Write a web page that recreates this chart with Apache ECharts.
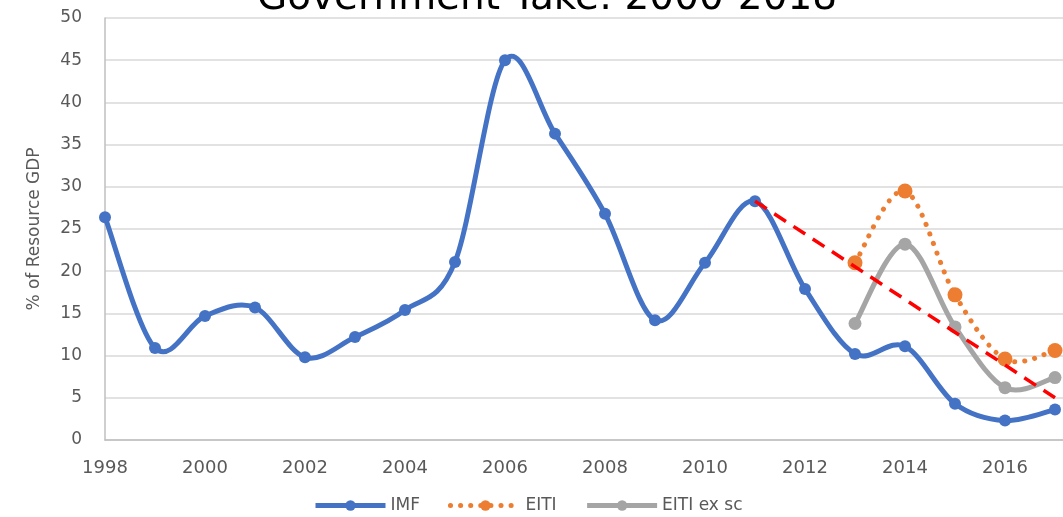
<!DOCTYPE html>
<html>
<head>
<meta charset="utf-8">
<script src="https://cdn.jsdelivr.net/npm/echarts@6/dist/echarts.min.js"></script>
<style>
  html, body { margin: 0; padding: 0; background: #fff; }
  #chart { width: 1063px; height: 517px; }
</style>
</head>
<body>
<div id="chart"></div>
<script>
// Government take as % of resource GDP, by year
const years = [1998, 1999, 2000, 2001, 2002, 2003, 2004, 2005, 2006, 2007,
               2008, 2009, 2010, 2011, 2012, 2013, 2014, 2015, 2016, 2017];
const imf = [26.4, 10.9, 14.7, 15.7, 9.8, 12.2, 15.4, 21.1, 45.0, 36.3,
             26.8, 14.2, 21.0, 28.3, 17.9, 10.2, 11.1, 4.3, 2.3, 3.6];
const eitiYears = [2013, 2014, 2015, 2016, 2017];
const eiti = [21.0, 29.5, 17.2, 9.6, 10.6];
const eitiExSc = [13.8, 23.2, 13.4, 6.2, 7.4];
// Straight-line decline drawn from the 2011 peak
const trendYears = [2011, 2017];
const trendValues = [28.3, 5.0];

const BLUE = '#4472C4', ORANGE = '#ED7D31', GREY = '#A5A5A5', TEXT = '#595959';
const pairs = (xs, ys) => xs.map((x, i) => [x, ys[i]]);

// Catmull-Rom style smoothing: each data item draws the cubic segment
// to the next point, with tangents taken from its neighbours.
function smoothRenderer(xs, ys, style) {
  return function (params, api) {
    const i = params.dataIndex, n = xs.length;
    if (i >= n - 1) return null;
    const pt = k => {
      const j = Math.max(0, Math.min(n - 1, k));
      return api.coord([xs[j], ys[j]]);
    };
    const p0 = pt(i - 1), p1 = pt(i), p2 = pt(i + 1), p3 = pt(i + 2);
    return {
      type: 'bezierCurve',
      shape: {
        x1: p1[0], y1: p1[1], x2: p2[0], y2: p2[1],
        cpx1: p1[0] + (p2[0] - p0[0]) / 6, cpy1: p1[1] + (p2[1] - p0[1]) / 6,
        cpx2: p2[0] - (p3[0] - p1[0]) / 6, cpy2: p2[1] - (p3[1] - p1[1]) / 6
      },
      style: Object.assign({ fill: null }, style)
    };
  };
}

function curveSeries(xs, ys, style, z) {
  return {
    type: 'custom',
    renderItem: smoothRenderer(xs, ys, style),
    data: pairs(xs, ys),
    encode: { x: 0, y: 1 },
    silent: true,
    z: z
  };
}

function markerSeries(name, xs, ys, color, size, z) {
  return {
    name: name,
    type: 'line',
    data: pairs(xs, ys),
    symbol: 'circle',
    symbolSize: size,
    itemStyle: { color: color },
    lineStyle: { color: color, opacity: 0 },
    z: z
  };
}

const chart = echarts.init(document.getElementById('chart'));
chart.setOption({
  animation: false,
  title: {
    text: 'Government Take: 2000-2018',
    left: 542,
    textAlign: 'center',
    top: -26,
    textStyle: { fontFamily: 'DejaVu Sans', fontSize: 39, fontWeight: 'normal', color: '#000' }
  },
  grid: { left: 105, right: 0, top: 18, bottom: 77, containLabel: false },
  legend: {
    bottom: -2,
    left: 308,
    itemWidth: 70,
    itemHeight: 13,
    itemGap: 28,
    textStyle: { fontFamily: 'DejaVu Sans', fontSize: 17, color: TEXT },
    data: [
      { name: 'IMF', lineStyle: { color: BLUE, width: 5, opacity: 1, type: 'solid' } },
      { name: 'EITI', lineStyle: { color: ORANGE, width: 5, opacity: 1, type: [0.1, 10], cap: 'round' } },
      { name: 'EITI ex sc', lineStyle: { color: GREY, width: 5, opacity: 1, type: 'solid' } }
    ]
  },
  xAxis: {
    type: 'value',
    min: 1998,
    max: 2017.16,
    interval: 2,
    axisLine: { show: true, lineStyle: { color: '#bfbfbf', width: 1.5 } },
    axisTick: { show: false },
    splitLine: { show: false },
    axisLabel: {
      showMaxLabel: false,
      margin: 19,
      fontFamily: 'DejaVu Sans',
      fontSize: 18,
      color: TEXT,
      formatter: v => (Number.isInteger(v) ? String(v) : '')
    }
  },
  yAxis: {
    type: 'value',
    min: 0,
    max: 50,
    interval: 5,
    name: '% of Resource GDP',
    nameLocation: 'middle',
    nameGap: 62,
    nameTextStyle: { fontFamily: 'DejaVu Sans', fontSize: 17, color: TEXT },
    axisLine: { show: true, lineStyle: { color: '#bfbfbf', width: 1.5 } },
    axisTick: { show: false },
    splitLine: { lineStyle: { color: '#d9d9d9', width: 1.5 } },
    axisLabel: { margin: 23, fontFamily: 'DejaVu Sans', fontSize: 17, color: TEXT }
  },
  series: [
    curveSeries(years, imf, { stroke: BLUE, lineWidth: 5, lineCap: 'round', lineJoin: 'round' }, 3),
    curveSeries(eitiYears, eiti, { stroke: ORANGE, lineWidth: 5, lineCap: 'round', lineDash: [0.1, 10] }, 2),
    curveSeries(eitiYears, eitiExSc, { stroke: GREY, lineWidth: 5, lineCap: 'round', lineJoin: 'round' }, 2),
    markerSeries('IMF', years, imf, BLUE, 12, 5),
    markerSeries('EITI', eitiYears, eiti, ORANGE, 15, 4),
    markerSeries('EITI ex sc', eitiYears, eitiExSc, GREY, 13, 4),
    {
      name: 'Trend',
      type: 'line',
      data: pairs(trendYears, trendValues),
      symbol: 'none',
      silent: true,
      lineStyle: { color: '#ff0000', width: 3.5, type: [14, 9] },
      z: 6
    }
  ]
});
</script>
</body>
</html>
